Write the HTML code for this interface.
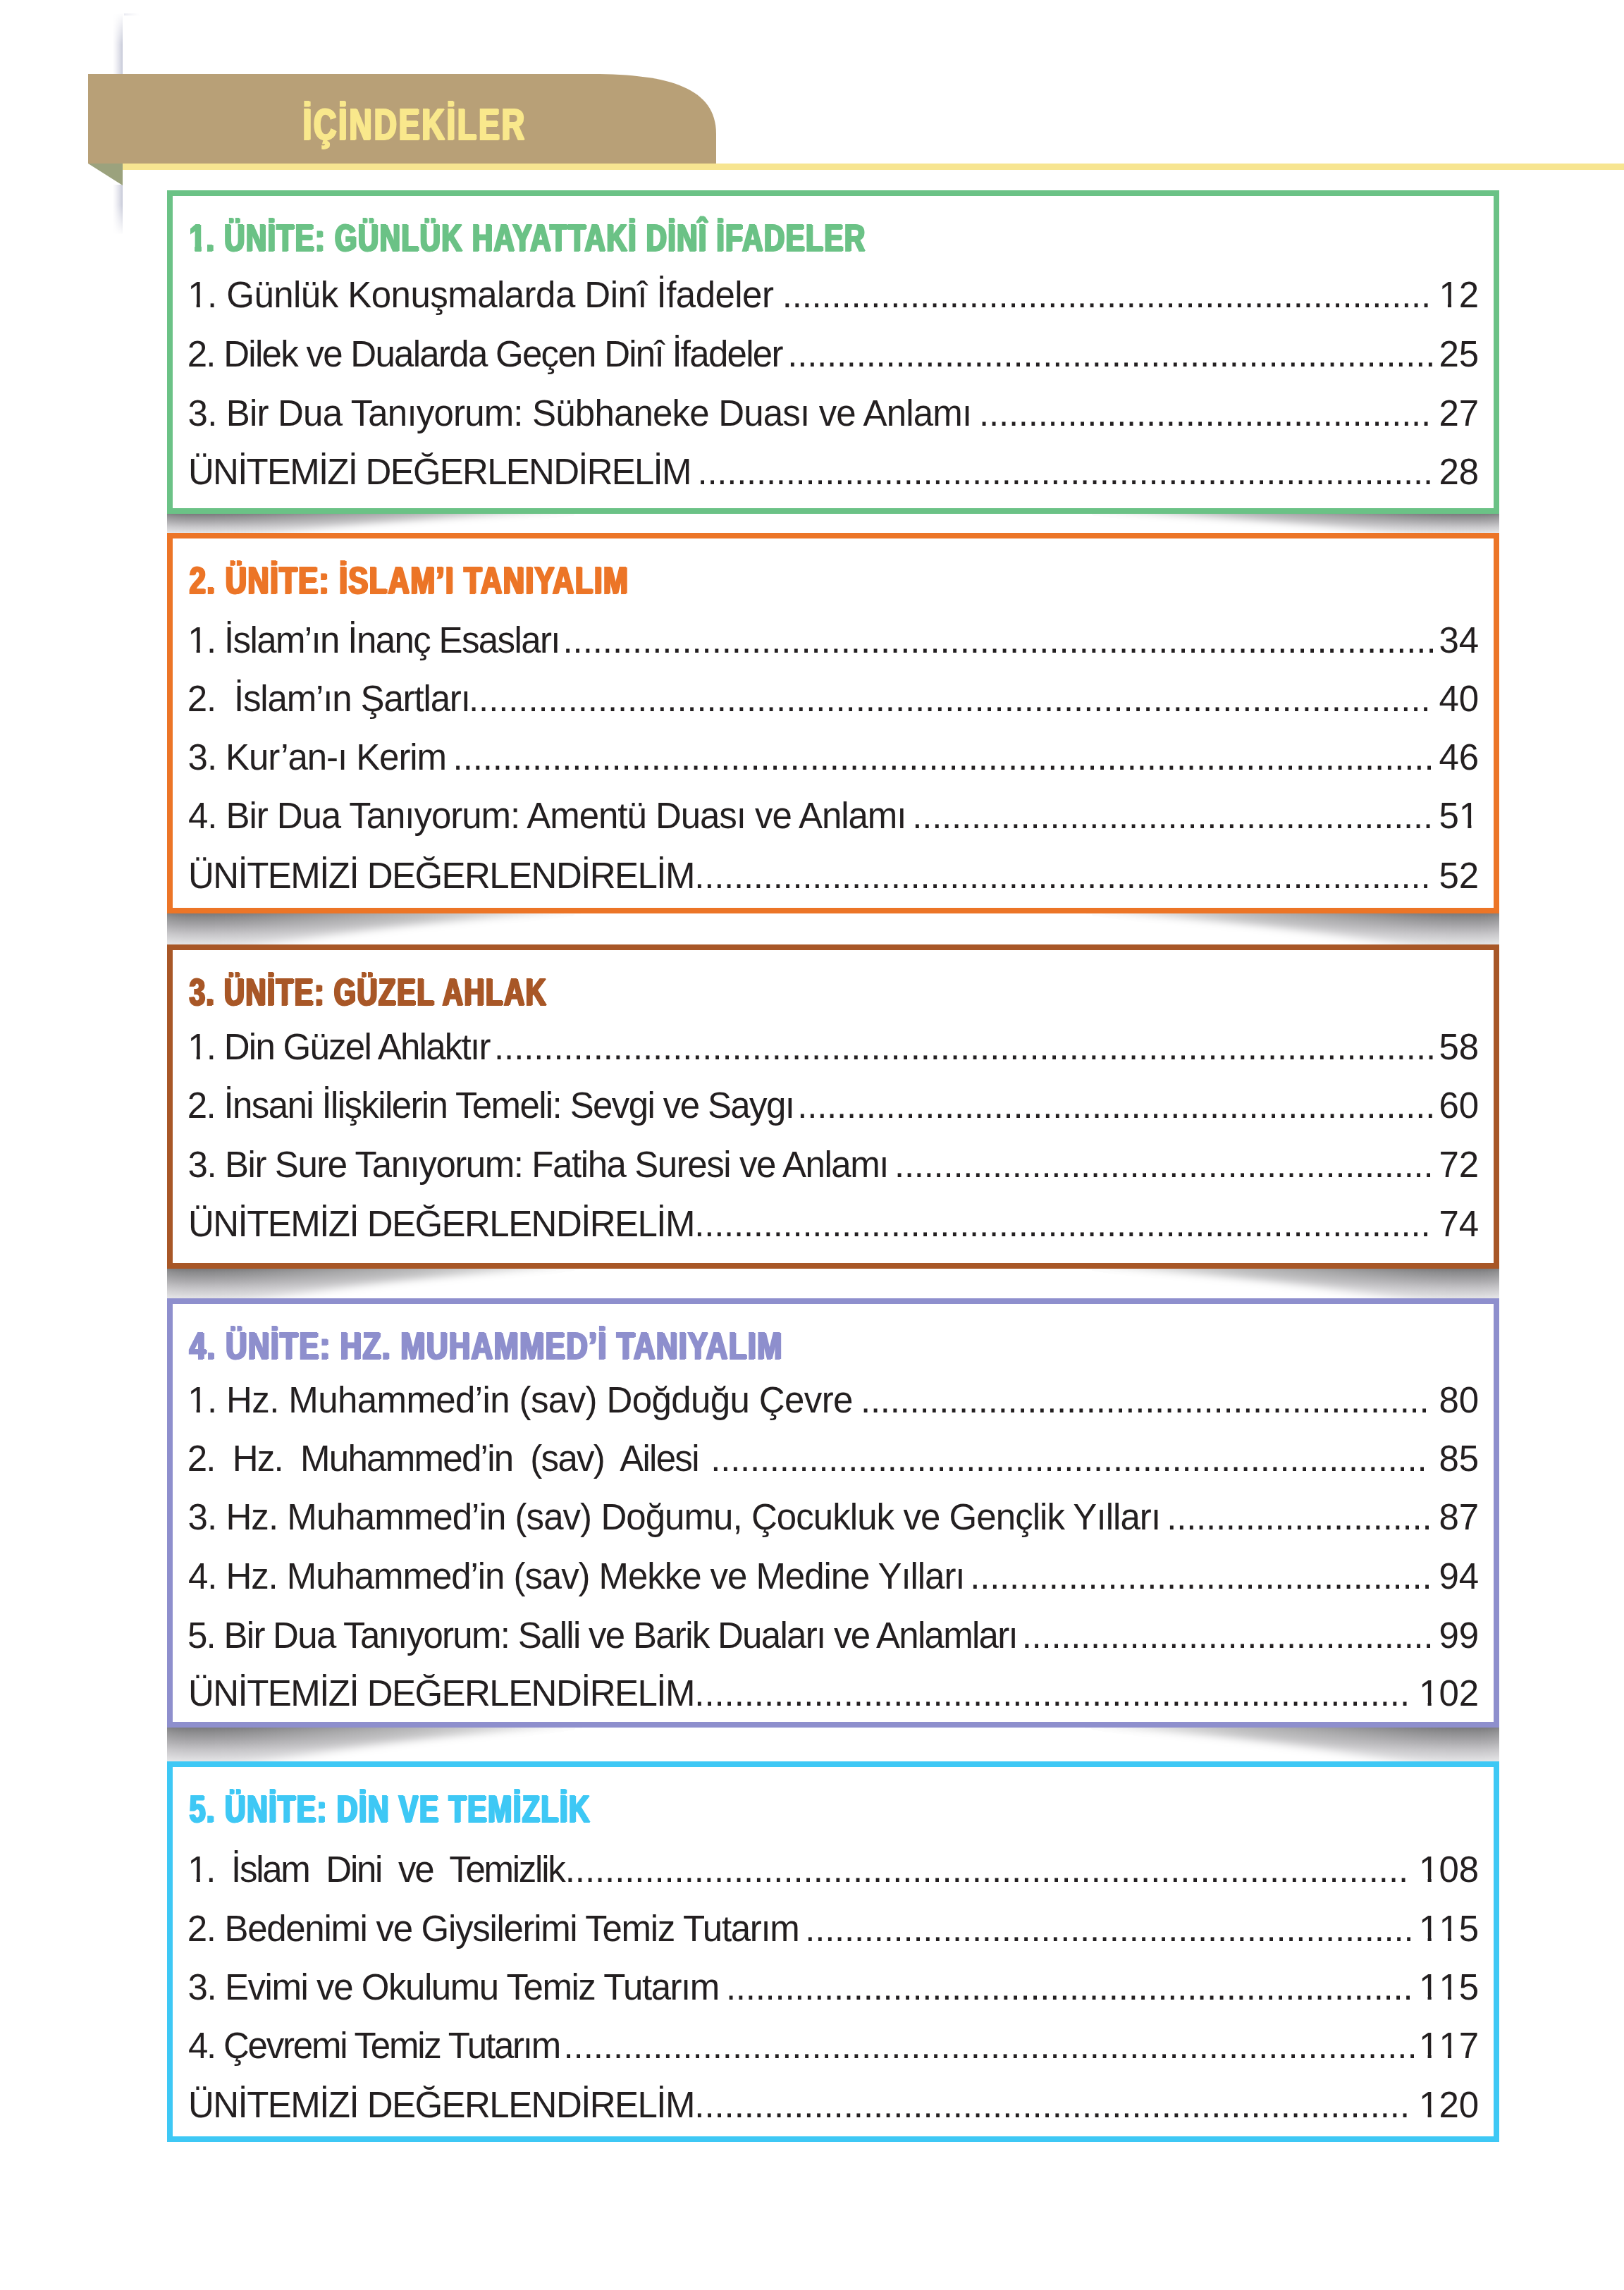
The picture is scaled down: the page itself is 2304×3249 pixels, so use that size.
<!DOCTYPE html>
<html lang="tr"><head><meta charset="utf-8"><title>İçindekiler</title>
<style>
html,body{margin:0;padding:0;background:#fff;}
body{width:2304px;height:3249px;position:relative;overflow:hidden;font-family:"Liberation Sans",sans-serif;color:#231f20;}
.a{position:absolute;white-space:pre;}
.t{font-size:51px;line-height:51px;}
.h{font-size:53.0px;line-height:53.0px;font-weight:700;transform-origin:0 0;-webkit-text-stroke:2.0px currentColor;letter-spacing:2.0px;text-shadow:1px 0 currentColor,2px 0 currentColor,3px 0 currentColor;}
.box{position:absolute;left:237px;width:1890px;box-sizing:border-box;border:8px solid;}
.n{font-size:51px;line-height:51px;text-align:right;}
.o{display:inline-block;clip-path:polygon(0 0,100% 0,100% 37.6px,17.6px 37.6px,17.6px 100%,12.5px 100%,12.5px 37.6px,0 37.6px);}
.ob{display:inline-block;clip-path:polygon(-5px -5px,100% -5px,100% 38.2px,22.8px 38.2px,22.8px 120%,11.2px 120%,11.2px 38.2px,-5px 38.2px);}
</style></head><body>
<svg class="a" style="left:0;top:0" width="2304" height="400" viewBox="0 0 2304 400">
<defs>
<linearGradient id="es" x1="0" y1="0" x2="1" y2="0">
<stop offset="0" stop-color="#dcdce8" stop-opacity="0"/>
<stop offset="1" stop-color="#c6c9d8" stop-opacity="1"/>
</linearGradient>
<linearGradient id="ev1" x1="0" y1="0" x2="0" y2="1">
<stop offset="0" stop-color="#fff" stop-opacity="1"/>
<stop offset="0.5" stop-color="#fff" stop-opacity="0"/>
<stop offset="1" stop-color="#fff" stop-opacity="0"/>
</linearGradient>
<linearGradient id="ev2" x1="0" y1="0" x2="0" y2="1">
<stop offset="0" stop-color="#fff" stop-opacity="0"/>
<stop offset="0.4" stop-color="#fff" stop-opacity="0"/>
<stop offset="1" stop-color="#fff" stop-opacity="1"/>
</linearGradient>
</defs>
<linearGradient id="tl" x1="0" y1="0" x2="1" y2="0"><stop offset="0" stop-color="#e6e7ef" stop-opacity="0"/><stop offset="0.3" stop-color="#e6e7ef"/><stop offset="1" stop-color="#eeeef4" stop-opacity="0"/></linearGradient>
<rect x="162" y="19" width="36" height="3" fill="url(#tl)"/>
<rect x="160" y="20" width="14" height="86" fill="url(#es)"/>
<rect x="158" y="18" width="18" height="90" fill="url(#ev1)"/>
<rect x="160" y="262" width="14" height="70" fill="url(#es)"/>
<rect x="158" y="262" width="18" height="72" fill="url(#ev2)"/>
<path d="M125 105 L840 105 C950 105 1016 125 1016 190 L1016 232 L125 232 Z" fill="#b8a077"/>
<rect x="174" y="232" width="2130" height="9" fill="#f7e591"/>
<path d="M125 232 L174 232 L174 263 Z" fill="#9ba27d"/>
</svg>
<div class="a h" style="left:428.6px;top:145.0px;font-size:63px;line-height:63px;color:#f9e88c;-webkit-text-stroke:2.0px #f9e88c;letter-spacing:4px;transform:scaleX(0.7105)">İÇİNDEKİLER</div>
<div class="box" style="top:270px;height:459px;border-color:#6bc286"></div>
<div class="a h" style="left:268.0px;top:310.7px;color:#6bc286;transform:scaleX(0.7631)"><span class="ob">1</span>. ÜNİTE: GÜNLÜK HAYATTAKİ DİNÎ İFADELER</div>
<div class="box" style="top:756px;height:540px;border-color:#ec7527"></div>
<div class="a h" style="left:268.0px;top:796.7px;color:#ec7527;transform:scaleX(0.7863)">2. ÜNİTE: İSLAM’I TANIYALIM</div>
<div class="box" style="top:1340px;height:460px;border-color:#a85727"></div>
<div class="a h" style="left:268.0px;top:1380.6px;color:#a85727;transform:scaleX(0.7584)">3. ÜNİTE: GÜZEL AHLAK</div>
<div class="box" style="top:1842px;height:609px;border-color:#8e8fcd"></div>
<div class="a h" style="left:268.0px;top:1882.7px;color:#8e8fcd;transform:scaleX(0.7921)">4. ÜNİTE: HZ. MUHAMMED’İ TANIYALIM</div>
<div class="box" style="top:2499px;height:540px;border-color:#3ec8f5"></div>
<div class="a h" style="left:268.0px;top:2539.5px;color:#3ec8f5;transform:scaleX(0.7736)">5. ÜNİTE: DİN VE TEMİZLİK</div>
<svg class="a" style="left:0;top:0" width="2304" height="3249" viewBox="0 0 2304 3249">
<defs>
<linearGradient id="gv" x1="0" y1="0" x2="0" y2="1">
<stop offset="0" stop-color="#6c6a6e"/>
<stop offset="0.5" stop-color="#a6a4aa"/>
<stop offset="1" stop-color="#e4e4ea"/>
</linearGradient>
<filter id="bl" x="-0.2" y="-1" width="1.4" height="3"><feGaussianBlur stdDeviation="30 5"/></filter>
<clipPath id="gc0"><rect x="237" y="729" width="1890" height="27"/></clipPath>
<clipPath id="gc1"><rect x="237" y="1296" width="1890" height="44"/></clipPath>
<clipPath id="gc2"><rect x="237" y="1800" width="1890" height="42"/></clipPath>
<clipPath id="gc3"><rect x="237" y="2451" width="1890" height="48"/></clipPath>
</defs>
<linearGradient id="hl0" gradientUnits="userSpaceOnUse" x1="237" y1="0" x2="837" y2="0"><stop offset="0" stop-color="#fff"/><stop offset="0.15" stop-color="#fff"/><stop offset="0.6" stop-color="#888"/><stop offset="1" stop-color="#000"/></linearGradient><linearGradient id="hr0" gradientUnits="userSpaceOnUse" x1="2127" y1="0" x2="1527" y2="0"><stop offset="0" stop-color="#fff"/><stop offset="0.15" stop-color="#fff"/><stop offset="0.6" stop-color="#888"/><stop offset="1" stop-color="#000"/></linearGradient><mask id="mk0" maskUnits="userSpaceOnUse" x="0" y="669" width="2304" height="147"><g filter="url(#bl)"><path d="M197 699 L197 786 L257 786 C357 756 567 735 837 727 L837 699 Z" fill="url(#hl0)"/><path d="M2167 699 L2167 786 L2107 786 C2007 756 1797 735 1527 727 L1527 699 Z" fill="url(#hr0)"/></g></mask>
<rect x="237" y="729" width="1890" height="27" fill="url(#gv0)" mask="url(#mk0)"/>
<linearGradient id="hl1" gradientUnits="userSpaceOnUse" x1="237" y1="0" x2="837" y2="0"><stop offset="0" stop-color="#fff"/><stop offset="0.15" stop-color="#fff"/><stop offset="0.6" stop-color="#888"/><stop offset="1" stop-color="#000"/></linearGradient><linearGradient id="hr1" gradientUnits="userSpaceOnUse" x1="2127" y1="0" x2="1527" y2="0"><stop offset="0" stop-color="#fff"/><stop offset="0.15" stop-color="#fff"/><stop offset="0.6" stop-color="#888"/><stop offset="1" stop-color="#000"/></linearGradient><mask id="mk1" maskUnits="userSpaceOnUse" x="0" y="1236" width="2304" height="164"><g filter="url(#bl)"><path d="M197 1266 L197 1370 L257 1370 C357 1340 567 1307 837 1294 L837 1266 Z" fill="url(#hl1)"/><path d="M2167 1266 L2167 1370 L2107 1370 C2007 1340 1797 1307 1527 1294 L1527 1266 Z" fill="url(#hr1)"/></g></mask>
<rect x="237" y="1296" width="1890" height="44" fill="url(#gv1)" mask="url(#mk1)"/>
<linearGradient id="hl2" gradientUnits="userSpaceOnUse" x1="237" y1="0" x2="837" y2="0"><stop offset="0" stop-color="#fff"/><stop offset="0.15" stop-color="#fff"/><stop offset="0.6" stop-color="#888"/><stop offset="1" stop-color="#000"/></linearGradient><linearGradient id="hr2" gradientUnits="userSpaceOnUse" x1="2127" y1="0" x2="1527" y2="0"><stop offset="0" stop-color="#fff"/><stop offset="0.15" stop-color="#fff"/><stop offset="0.6" stop-color="#888"/><stop offset="1" stop-color="#000"/></linearGradient><mask id="mk2" maskUnits="userSpaceOnUse" x="0" y="1740" width="2304" height="162"><g filter="url(#bl)"><path d="M197 1770 L197 1872 L257 1872 C357 1842 567 1810 837 1798 L837 1770 Z" fill="url(#hl2)"/><path d="M2167 1770 L2167 1872 L2107 1872 C2007 1842 1797 1810 1527 1798 L1527 1770 Z" fill="url(#hr2)"/></g></mask>
<rect x="237" y="1800" width="1890" height="42" fill="url(#gv2)" mask="url(#mk2)"/>
<linearGradient id="hl3" gradientUnits="userSpaceOnUse" x1="237" y1="0" x2="837" y2="0"><stop offset="0" stop-color="#fff"/><stop offset="0.15" stop-color="#fff"/><stop offset="0.6" stop-color="#888"/><stop offset="1" stop-color="#000"/></linearGradient><linearGradient id="hr3" gradientUnits="userSpaceOnUse" x1="2127" y1="0" x2="1527" y2="0"><stop offset="0" stop-color="#fff"/><stop offset="0.15" stop-color="#fff"/><stop offset="0.6" stop-color="#888"/><stop offset="1" stop-color="#000"/></linearGradient><mask id="mk3" maskUnits="userSpaceOnUse" x="0" y="2391" width="2304" height="168"><g filter="url(#bl)"><path d="M197 2421 L197 2529 L257 2529 C357 2499 567 2463 837 2449 L837 2421 Z" fill="url(#hl3)"/><path d="M2167 2421 L2167 2529 L2107 2529 C2007 2499 1797 2463 1527 2449 L1527 2421 Z" fill="url(#hr3)"/></g></mask>
<rect x="237" y="2451" width="1890" height="48" fill="url(#gv3)" mask="url(#mk3)"/>
<defs><linearGradient id="gv0" gradientUnits="userSpaceOnUse" x1="0" y1="729" x2="0" y2="756"><stop offset="0" stop-color="#79797b"/><stop offset="0.12" stop-color="#8a8a8c"/><stop offset="0.4" stop-color="#a8a7aa"/><stop offset="0.65" stop-color="#c4c3c6"/><stop offset="1" stop-color="#e4e4e6"/></linearGradient><linearGradient id="gv1" gradientUnits="userSpaceOnUse" x1="0" y1="1296" x2="0" y2="1340"><stop offset="0" stop-color="#79797b"/><stop offset="0.12" stop-color="#8a8a8c"/><stop offset="0.4" stop-color="#a8a7aa"/><stop offset="0.65" stop-color="#c4c3c6"/><stop offset="1" stop-color="#e4e4e6"/></linearGradient><linearGradient id="gv2" gradientUnits="userSpaceOnUse" x1="0" y1="1800" x2="0" y2="1842"><stop offset="0" stop-color="#79797b"/><stop offset="0.12" stop-color="#8a8a8c"/><stop offset="0.4" stop-color="#a8a7aa"/><stop offset="0.65" stop-color="#c4c3c6"/><stop offset="1" stop-color="#e4e4e6"/></linearGradient><linearGradient id="gv3" gradientUnits="userSpaceOnUse" x1="0" y1="2451" x2="0" y2="2499"><stop offset="0" stop-color="#79797b"/><stop offset="0.12" stop-color="#8a8a8c"/><stop offset="0.4" stop-color="#a8a7aa"/><stop offset="0.65" stop-color="#c4c3c6"/><stop offset="1" stop-color="#e4e4e6"/></linearGradient></defs></svg>
<div class="a t" style="left:266.2px;top:393.3px;letter-spacing:-0.536px"><span class="o">1</span>. Günlük Konuşmalarda Dinî İfadeler</div>
<div class="a t" style="left:1109.8px;top:393.3px;letter-spacing:-0.227px">..................................................................</div>
<div class="a n" style="right:205.8px;top:393.3px"><span class="o">1</span>2</div>
<div class="a t" style="left:265.7px;top:477.2px;letter-spacing:-1.718px">2. Dilek ve Dualarda Geçen Dinî İfadeler</div>
<div class="a t" style="left:1117.3px;top:477.2px;letter-spacing:-0.249px">..................................................................</div>
<div class="a n" style="right:205.8px;top:477.2px">25</div>
<div class="a t" style="left:266.6px;top:560.9px;letter-spacing:-0.816px">3. Bir Dua Tanıyorum: Sübhaneke Duası ve Anlamı</div>
<div class="a t" style="left:1389.1px;top:560.9px;letter-spacing:-0.237px">..............................................</div>
<div class="a n" style="right:205.8px;top:560.9px">27</div>
<div class="a t" style="left:267.0px;top:643.5px;letter-spacing:-1.754px">ÜNİTEMİZİ DEĞERLENDİRELİM</div>
<div class="a t" style="left:989.5px;top:643.5px;letter-spacing:-0.258px">...........................................................................</div>
<div class="a n" style="right:205.8px;top:643.5px">28</div>
<div class="a t" style="left:266.2px;top:882.8px;letter-spacing:-1.618px"><span class="o">1</span>. İslam’ın İnanç Esasları</div>
<div class="a t" style="left:798.5px;top:882.8px;letter-spacing:-0.090px">........................................................................................</div>
<div class="a n" style="right:205.8px;top:882.8px">34</div>
<div class="a t" style="left:265.7px;top:966.4px;letter-spacing:-1.147px">2.  İslam’ın Şartları</div>
<div class="a t" style="left:665.0px;top:966.4px;letter-spacing:-0.102px">.................................................................................................</div>
<div class="a n" style="right:205.8px;top:966.4px">40</div>
<div class="a t" style="left:266.6px;top:1048.8px;letter-spacing:-1.064px">3. Kur’an-ı Kerim</div>
<div class="a t" style="left:642.6px;top:1048.8px;letter-spacing:-0.110px">...................................................................................................</div>
<div class="a n" style="right:205.8px;top:1048.8px">46</div>
<div class="a t" style="left:266.9px;top:1132.3px;letter-spacing:-1.054px">4. Bir Dua Tanıyorum: Amentü Duası ve Anlamı</div>
<div class="a t" style="left:1294.3px;top:1132.3px;letter-spacing:-0.234px">.....................................................</div>
<div class="a n" style="right:205.8px;top:1132.3px">5<span class="o">1</span></div>
<div class="a t" style="left:267.0px;top:1216.8px;letter-spacing:-1.546px">ÜNİTEMİZİ DEĞERLENDİRELİM</div>
<div class="a t" style="left:985.3px;top:1216.8px;letter-spacing:-0.249px">...........................................................................</div>
<div class="a n" style="right:205.8px;top:1216.8px">52</div>
<div class="a t" style="left:266.2px;top:1459.8px;letter-spacing:-1.730px"><span class="o">1</span>. Din Güzel Ahlaktır</div>
<div class="a t" style="left:701.0px;top:1459.8px;letter-spacing:-0.106px">...............................................................................................</div>
<div class="a n" style="right:205.8px;top:1459.8px">58</div>
<div class="a t" style="left:265.7px;top:1543.2px;letter-spacing:-1.615px">2. İnsani İlişkilerin Temeli: Sevgi ve Saygı</div>
<div class="a t" style="left:1131.3px;top:1543.2px;letter-spacing:-0.250px">.................................................................</div>
<div class="a n" style="right:205.8px;top:1543.2px">60</div>
<div class="a t" style="left:266.6px;top:1627.4px;letter-spacing:-1.429px">3. Bir Sure Tanıyorum: Fatiha Suresi ve Anlamı</div>
<div class="a t" style="left:1269.0px;top:1627.4px;letter-spacing:-0.272px">.......................................................</div>
<div class="a n" style="right:205.8px;top:1627.4px">72</div>
<div class="a t" style="left:267.0px;top:1711.2px;letter-spacing:-1.546px">ÜNİTEMİZİ DEĞERLENDİRELİM</div>
<div class="a t" style="left:985.3px;top:1711.2px;letter-spacing:-0.249px">...........................................................................</div>
<div class="a n" style="right:205.8px;top:1711.2px">74</div>
<div class="a t" style="left:266.2px;top:1960.6px;letter-spacing:-0.602px"><span class="o">1</span>. Hz. Muhammed’in (sav) Doğduğu Çevre</div>
<div class="a t" style="left:1221.0px;top:1960.6px;letter-spacing:-0.267px">..........................................................</div>
<div class="a n" style="right:205.8px;top:1960.6px">80</div>
<div class="a t" style="left:265.7px;top:2044.4px;letter-spacing:-1.714px">2.  Hz.  Muhammed’in  (sav)  Ailesi</div>
<div class="a t" style="left:1008.3px;top:2044.4px;letter-spacing:-0.251px">.........................................................................</div>
<div class="a n" style="right:205.8px;top:2044.4px">85</div>
<div class="a t" style="left:266.6px;top:2127.4px;letter-spacing:-0.942px">3. Hz. Muhammed’in (sav) Doğumu, Çocukluk ve Gençlik Yılları</div>
<div class="a t" style="left:1655.3px;top:2127.4px;letter-spacing:-0.241px">...........................</div>
<div class="a n" style="right:205.8px;top:2127.4px">87</div>
<div class="a t" style="left:266.9px;top:2211.1px;letter-spacing:-1.065px">4. Hz. Muhammed’in (sav) Mekke ve Medine Yılları</div>
<div class="a t" style="left:1376.3px;top:2211.1px;letter-spacing:-0.232px">...............................................</div>
<div class="a n" style="right:205.8px;top:2211.1px">94</div>
<div class="a t" style="left:265.9px;top:2294.8px;letter-spacing:-1.710px">5. Bir Dua Tanıyorum: Salli ve Barik Duaları ve Anlamları</div>
<div class="a t" style="left:1449.7px;top:2294.8px;letter-spacing:-0.273px">..........................................</div>
<div class="a n" style="right:205.8px;top:2294.8px">99</div>
<div class="a t" style="left:267.0px;top:2377.4px;letter-spacing:-1.546px">ÜNİTEMİZİ DEĞERLENDİRELİM</div>
<div class="a t" style="left:985.3px;top:2377.4px;letter-spacing:-0.076px">........................................................................</div>
<div class="a n" style="right:205.8px;top:2377.4px"><span class="o">1</span>02</div>
<div class="a t" style="left:266.2px;top:2626.5px;letter-spacing:-2.263px"><span class="o">1</span>.  İslam  Dini  ve  Temizlik</div>
<div class="a t" style="left:801.8px;top:2626.5px;letter-spacing:-0.096px">.....................................................................................</div>
<div class="a n" style="right:205.8px;top:2626.5px"><span class="o">1</span>08</div>
<div class="a t" style="left:265.7px;top:2711.2px;letter-spacing:-1.307px">2. Bedenimi ve Giysilerimi Temiz Tutarım</div>
<div class="a t" style="left:1142.3px;top:2711.2px;letter-spacing:-0.249px">..............................................................</div>
<div class="a n" style="right:205.8px;top:2711.2px"><span class="o">1</span><span class="o">1</span>5</div>
<div class="a t" style="left:266.6px;top:2793.8px;letter-spacing:-1.450px">3. Evimi ve Okulumu Temiz Tutarım</div>
<div class="a t" style="left:1029.9px;top:2793.8px;letter-spacing:-0.249px">......................................................................</div>
<div class="a n" style="right:205.8px;top:2793.8px"><span class="o">1</span><span class="o">1</span>5</div>
<div class="a t" style="left:266.9px;top:2877.2px;letter-spacing:-2.201px">4. Çevremi Temiz Tutarım</div>
<div class="a t" style="left:799.5px;top:2877.2px;letter-spacing:-0.088px">......................................................................................</div>
<div class="a n" style="right:205.8px;top:2877.2px"><span class="o">1</span><span class="o">1</span>7</div>
<div class="a t" style="left:267.0px;top:2961.1px;letter-spacing:-1.546px">ÜNİTEMİZİ DEĞERLENDİRELİM</div>
<div class="a t" style="left:985.3px;top:2961.1px;letter-spacing:-0.076px">........................................................................</div>
<div class="a n" style="right:205.8px;top:2961.1px"><span class="o">1</span>20</div>
</body></html>
